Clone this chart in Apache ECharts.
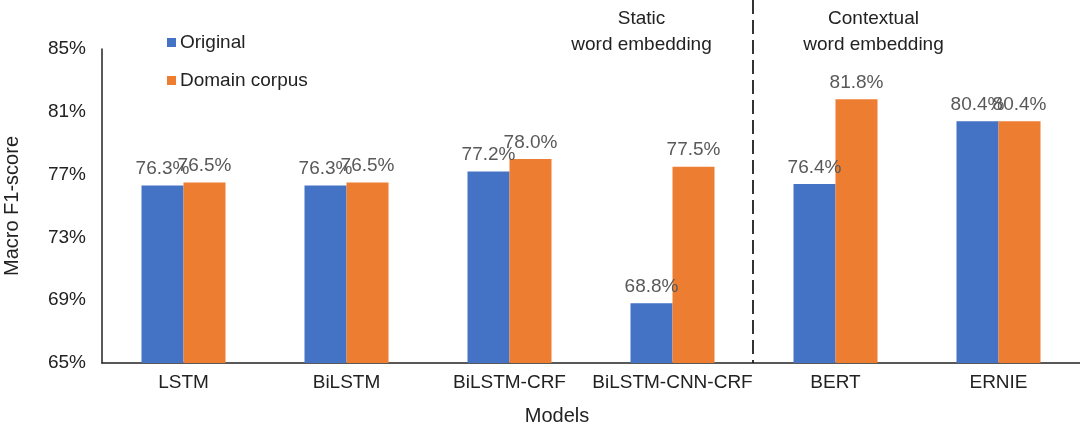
<!DOCTYPE html>
<html lang="en">
<head>
  <meta charset="UTF-8">
  <title>Macro F1-score</title>
  <script src="https://cdn.jsdelivr.net/npm/echarts@6/dist/echarts.min.js"></script>
  <style>
    html, body { margin: 0; padding: 0; background: #fff; }
  </style>
</head>
<body>
  <div id="chart" style="width: 1080px; height: 425px;"></div>

<script>
  // data
  const models = ['LSTM', 'BiLSTM', 'BiLSTM-CRF', 'BiLSTM-CNN-CRF', 'BERT', 'ERNIE'];
  const original = [76.3, 76.3, 77.2, 68.8, 76.4, 80.4];
  const domainCorpus = [76.5, 76.5, 78.0, 77.5, 81.8, 80.4];
  const groupTitles = ['Static\nword embedding', 'Contextual\nword embedding'];

  const font = 'Helvetica, Arial, "Liberation Sans", sans-serif';
  const myChart = echarts.init(document.getElementById('chart'));

  const labelStyle = {
    show: true,
    position: 'top',
    distance: 7,
    fontFamily: font,
    fontSize: 19,
    color: '#595959',
    formatter: p => p.value.toFixed(1) + '%'
  };

  const option = {
    animation: false,
    textStyle: { fontFamily: font },
    grid: { left: 102, right: 0, top: 49, bottom: 62, outerBoundsMode: 'none' },
    legend: {
      orient: 'vertical',
      left: 167,
      top: 33,
      padding: 0,
      itemGap: 19,
      itemWidth: 9,
      itemHeight: 9,
      icon: 'rect',
      textStyle: { fontFamily: font, fontSize: 19, color: '#222', padding: [0, 0, 0, -1] },
      data: ['Original', 'Domain corpus']
    },
    xAxis: {
      type: 'category',
      data: models,
      name: 'Models',
      nameLocation: 'middle',
      nameGap: 43,
      nameTextStyle: { fontFamily: font, fontSize: 20, color: '#222', padding: [0, 68, 0, 0] },
      axisLine: { lineStyle: { color: '#222', width: 1.5 } },
      axisTick: { show: false },
      axisLabel: { interval: 0, fontFamily: font, fontSize: 19, color: '#222', margin: 10 }
    },
    yAxis: {
      type: 'value',
      min: 65,
      max: 85,
      interval: 4,
      name: 'Macro F1-score',
      nameLocation: 'middle',
      nameGap: 80,
      nameTextStyle: { fontFamily: font, fontSize: 20, color: '#222' },
      axisLine: { show: true, lineStyle: { color: '#222', width: 1.5 } },
      axisTick: { show: false },
      splitLine: { show: false },
      axisLabel: { fontFamily: font, fontSize: 19, color: '#222', margin: 16, formatter: '{value}%' }
    },
    series: [
      {
        name: 'Original',
        type: 'bar',
        data: original,
        barWidth: 42,
        barGap: '0%',
        itemStyle: { color: '#4472C4' },
        label: labelStyle
      },
      {
        name: 'Domain corpus',
        type: 'bar',
        data: domainCorpus,
        barWidth: 42,
        itemStyle: { color: '#ED7D31' },
        label: labelStyle
      }
    ]
  };

  myChart.setOption(option);

  // divider between static and contextual models, and the group titles
  const xStatic = myChart.convertToPixel({ xAxisIndex: 0 }, 'BiLSTM-CNN-CRF');
  const xBert = myChart.convertToPixel({ xAxisIndex: 0 }, 'BERT');
  const xDivider = (xStatic + xBert) / 2 - 1;
  const yBottom = myChart.convertToPixel({ yAxisIndex: 0 }, 65);

  const titleStyle = {
    align: 'center',
    fontFamily: font,
    fontSize: 19,
    lineHeight: 26,
    fill: '#222'
  };

  myChart.setOption({
    graphic: [
      {
        type: 'line',
        shape: { x1: xDivider, y1: 0, x2: xDivider, y2: yBottom },
        style: { stroke: '#333', lineWidth: 2, lineDash: [14, 6] }
      },
      {
        type: 'text',
        x: xStatic - 31,
        y: 6,
        style: Object.assign({ text: groupTitles[0] }, titleStyle)
      },
      {
        type: 'text',
        x: xBert + 38,
        y: 6,
        style: Object.assign({ text: groupTitles[1] }, titleStyle)
      }
    ]
  });
</script>
</body>
</html>
